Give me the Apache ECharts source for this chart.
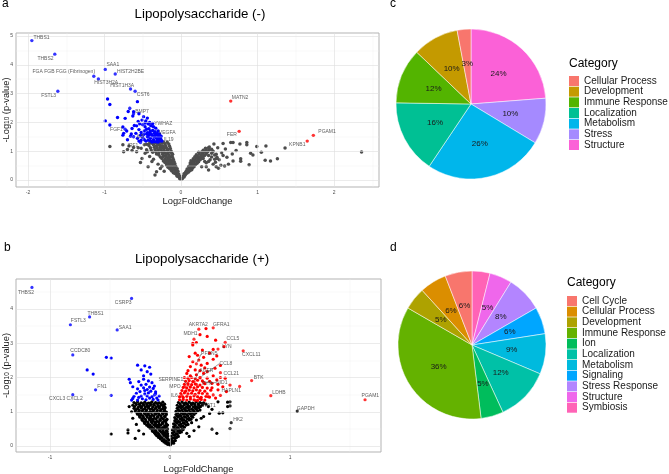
<!DOCTYPE html>
<html><head><meta charset="utf-8">
<script src="https://cdn.jsdelivr.net/npm/echarts@6/dist/echarts.min.js"></script>
<style>html,body{margin:0;padding:0;background:#fff}#c{width:669px;height:474px}</style>
</head><body><div id="c"></div>
<script>
// ================= DATA =================
// Panel a: Lipopolysaccharide (-)  [log2FC, -log10 p]
const aNs = [
[-0.01,0.03],[-0.02,0.07],[-0.03,0.11],[-0.05,0.13],[-0.04,0.16],[-0.02,0.14],
[-0.06,0.19],[-0.03,0.21],[-0.08,0.23],[-0.05,0.26],[-0.10,0.25],[-0.07,0.29],[-0.12,0.31],[-0.04,0.30],
[-0.06,0.34],[-0.09,0.36],[-0.13,0.35],[-0.15,0.40],[-0.05,0.39],[-0.08,0.43],[-0.11,0.41],[-0.14,0.45],[-0.17,0.44],
[-0.07,0.48],[-0.10,0.51],[-0.13,0.49],[-0.16,0.53],[-0.19,0.52],[-0.08,0.56],[-0.12,0.57],[-0.15,0.59],[-0.18,0.58],[-0.21,0.61],
[-0.09,0.63],[-0.12,0.66],[-0.16,0.64],[-0.19,0.67],[-0.23,0.66],[-0.10,0.71],[-0.14,0.70],[-0.17,0.73],[-0.21,0.72],[-0.25,0.75],
[-0.11,0.78],[-0.15,0.80],[-0.19,0.79],[-0.23,0.82],[-0.27,0.80],[-0.12,0.85],[-0.16,0.87],[-0.20,0.86],[-0.24,0.89],[-0.29,0.87],[-0.32,0.90],
[-0.12,0.93],[-0.17,0.95],[-0.21,0.94],[-0.25,0.97],[-0.29,0.95],[-0.33,0.98],[-0.37,0.96],[-0.13,1.01],[-0.18,1.03],[-0.22,1.02],[-0.26,1.05],[-0.30,1.03],[-0.34,1.06],[-0.39,1.04],
[-0.14,1.09],[-0.19,1.11],[-0.23,1.10],[-0.27,1.13],[-0.31,1.11],[-0.35,1.14],[-0.40,1.12],[-0.15,1.17],[-0.20,1.19],[-0.24,1.18],[-0.28,1.21],[-0.32,1.19],[-0.36,1.22],[-0.42,1.20],
[-0.16,1.25],[-0.21,1.26],[-0.25,1.28],[-0.29,1.25],[-0.33,1.29],[-0.37,1.26],[-0.41,1.28],[-0.45,1.24],[-0.18,1.31],[-0.23,1.32],[-0.27,1.33],[-0.35,1.32],[-0.39,1.31],
[-0.10,0.60],[-0.14,0.62],[-0.11,0.89],[-0.14,0.97],[-0.17,1.06],[-0.21,1.14],[-0.26,1.16],[-0.30,1.22],[-0.19,0.91],[-0.23,0.99],[-0.27,1.08],[-0.16,0.76],[-0.13,0.54],[-0.09,0.45],
[-0.93,1.16],[-0.76,1.22],[-0.75,0.98],[-0.70,1.06],[-0.64,1.02],[-0.62,1.13],[-0.56,1.12],[-0.52,1.10],[-0.51,0.75],[-0.47,0.93],[-0.53,0.61],[-0.43,0.46],[-0.38,0.64],[-0.34,0.17],[-0.32,0.29],[-0.48,1.22],[-0.45,1.05],[-0.41,0.82],[-0.36,0.72],[-0.30,0.55],[-0.27,0.40],[-0.25,0.48],[-0.22,0.30],[-0.44,0.98],[-0.58,0.98],[-0.68,1.18],
[0.01,0.03],[0.02,0.07],[0.04,0.10],[0.03,0.14],[0.05,0.16],[0.06,0.20],[0.04,0.22],[0.08,0.24],[0.06,0.27],[0.10,0.28],[0.07,0.31],[0.09,0.34],[0.12,0.33],[0.14,0.36],[0.08,0.38],[0.11,0.40],[0.15,0.42],[0.13,0.45],[0.17,0.46],[0.10,0.47],[0.12,0.51],[0.16,0.52],[0.19,0.54],[0.14,0.56],[0.21,0.58],[0.12,0.59],[0.17,0.61],[0.15,0.64],[0.20,0.65],[0.23,0.63],[0.13,0.67],[0.18,0.69],[0.22,0.71],[0.25,0.70],[0.16,0.74],[0.20,0.76],[0.24,0.77],[0.27,0.75],[0.18,0.81],[0.22,0.82],[0.26,0.84],[0.29,0.82],[0.31,0.86],[0.20,0.88],[0.24,0.90],[0.28,0.91],[0.33,0.92],[0.23,0.96],[0.27,0.97],[0.31,0.99],[0.35,0.98],[0.29,1.03],[0.33,1.05],[0.37,1.04],[0.32,1.10],[0.36,1.12],
[0.43,1.25],[0.55,1.27],[0.65,1.30],[0.68,1.30],[0.77,1.25],[0.86,1.30],[0.86,1.22],[1.11,1.18],[1.36,1.11],[1.05,0.96],[0.91,0.93],[0.94,0.87],[1.10,0.69],[1.17,0.66],[1.26,0.74],[0.89,0.53],[0.78,0.74],[0.78,0.65],[0.67,0.90],[0.68,0.66],[0.60,0.79],[0.57,0.49],[0.52,0.51],[0.47,0.79],[0.46,0.89],[0.40,1.07],[0.37,1.15],[0.42,1.00],[0.49,0.41],[0.40,0.93],[0.99,1.16],[2.36,0.97],[0.45,0.62],[0.50,0.70],[0.55,0.85],[0.62,0.55],[0.72,1.02],[0.38,0.70],[0.42,0.55],[0.36,0.85],[0.33,0.60],[0.44,0.72],[0.53,0.95],[0.58,1.08],[0.48,1.12],[0.30,0.98],[0.31,0.87],[0.29,0.75],[0.31,0.64],[0.27,0.46],[0.33,0.46],[0.36,0.64],[0.36,0.35],[0.44,0.87],[0.47,0.75],[0.46,0.46],[0.40,0.80]
];
const aDown = [
[-0.96,2.81],[-0.93,2.62],[-0.99,2.05],[-0.93,1.91],[-0.83,2.17],[-0.73,2.14],[-0.67,2.49],[-0.69,2.38],[-0.62,2.37],[-0.57,2.72],[-0.63,2.22],
[-0.76,1.84],[-0.75,1.62],[-0.76,1.55],[-0.70,1.40],[-0.71,1.70],[-0.64,1.79],[-0.61,1.89],[-0.56,2.03],[-0.51,2.08],
[-0.59,1.62],[-0.55,1.75],[-0.53,1.55],[-0.50,1.92],[-0.48,1.70],[-0.47,1.85],[-0.46,2.05],[-0.45,1.60],[-0.44,1.50],[-0.43,1.95],[-0.42,1.78],[-0.41,1.65],[-0.40,1.45],[-0.39,1.88],[-0.38,1.55],[-0.37,1.72],[-0.36,1.40],[-0.35,1.62],[-0.34,1.50],[-0.33,1.80],[-0.32,1.45],[-0.31,1.38],[-0.30,1.55],[-0.29,1.42],[-0.28,1.36],[-0.27,1.48],[-0.26,1.40],[-0.25,1.35],
[-0.48,1.40],[-0.50,1.48],[-0.52,1.38],[-0.46,1.35],[-0.43,1.38],[-0.40,1.36],[-0.38,1.32],[-0.35,1.33],[-0.32,1.33],[-0.30,1.32],[-0.55,1.35],[-0.57,1.45],[-0.62,1.50],[-0.65,1.60],[-0.66,1.52],[-0.58,1.88],[-0.54,1.95],[-0.45,1.76],[-0.41,2.00],[-0.37,1.96],[-0.40,1.70],[-0.36,1.85],[-0.34,1.68],[-0.30,1.70],[-0.28,1.60],[-0.26,1.52],
[-0.52,1.65],[-0.49,1.58],[-0.44,1.64],[-0.42,1.56],[-0.39,1.60],[-0.36,1.52],[-0.33,1.57],[-0.31,1.62],[-0.29,1.50],[-0.27,1.42],[-0.49,2.20],[-0.44,2.15],[-0.55,2.30],[-0.47,1.98]
];
const aLabNames = ['THBS1','THBS2','SAA1','HIST2H2BE','FGA FGB FGG (Fibrinogen)','HIST3H2A','HIST1H3A','CST6','FSTL3','BMP7','YWHAZ','VEGFA','IL19','IL5','FGF1','IRF1','MATN2','FER','PGAM1','KPNB1'];
const aLabPts = [[-1.95,4.84],[-1.65,4.37],[-0.99,3.84],[-0.86,3.68],[-1.14,3.60],[-1.08,3.51],[-0.66,3.16],[-0.60,3.08],[-1.61,3.08],[-0.62,2.30],[-0.40,1.90],[-0.33,1.60],[-0.27,1.36],[-0.43,1.50],[-0.73,1.76],[-0.53,1.30],[0.65,2.74],[0.76,1.69],[1.73,1.55],[1.65,1.35]];
const aLabGroup = ['down','down','down','down','down','down','down','down','down','down','down','down','down','down','down','down','up','up','up','up'];

// Panel b: Lipopolysaccharide (+)
const bNs = [
[-0.30,1.27],[-0.27,1.29],[-0.24,1.26],[-0.21,1.28],[-0.18,1.25],[-0.15,1.29],[-0.12,1.27],[-0.09,1.26],[-0.06,1.28],
[-0.285,1.24],[-0.255,1.22],[-0.225,1.24],[-0.195,1.23],[-0.165,1.25],[-0.135,1.22],[-0.105,1.24],[-0.075,1.23],[-0.045,1.22],
[-0.31,1.19],[-0.28,1.21],[-0.25,1.18],[-0.22,1.20],[-0.19,1.17],[-0.16,1.21],[-0.13,1.19],[-0.10,1.18],[-0.07,1.20],[-0.05,1.16],
[-0.295,1.15],[-0.265,1.13],[-0.235,1.15],[-0.205,1.14],[-0.175,1.16],[-0.145,1.14],[-0.115,1.13],[-0.085,1.15],[-0.055,1.14],
[-0.30,1.10],[-0.27,1.08],[-0.24,1.11],[-0.21,1.09],[-0.18,1.12],[-0.15,1.08],[-0.12,1.10],[-0.09,1.11],[-0.06,1.09],[-0.04,1.12],
[-0.285,1.06],[-0.255,1.04],[-0.225,1.06],[-0.195,1.05],[-0.165,1.07],[-0.135,1.05],[-0.105,1.04],[-0.075,1.06],[-0.045,1.05],
[-0.29,1.02],[-0.26,1.00],[-0.23,1.03],[-0.20,1.01],[-0.17,0.99],[-0.14,1.02],[-0.11,1.00],[-0.08,1.03],[-0.05,1.01],[-0.03,0.99],
[-0.275,0.97],[-0.245,0.95],[-0.215,0.97],[-0.185,0.96],[-0.155,0.98],[-0.125,0.96],[-0.095,0.95],[-0.065,0.97],[-0.035,0.96],
[-0.27,0.93],[-0.24,0.91],[-0.21,0.94],[-0.18,0.92],[-0.15,0.90],[-0.12,0.93],[-0.09,0.91],[-0.06,0.94],[-0.03,0.92],
[-0.255,0.88],[-0.225,0.87],[-0.195,0.89],[-0.165,0.87],[-0.135,0.88],[-0.105,0.86],[-0.075,0.88],[-0.045,0.87],
[-0.25,0.84],[-0.22,0.82],[-0.19,0.85],[-0.16,0.83],[-0.13,0.81],[-0.10,0.84],[-0.07,0.82],[-0.04,0.85],
[-0.235,0.79],[-0.205,0.78],[-0.175,0.80],[-0.145,0.78],[-0.115,0.79],[-0.085,0.77],[-0.055,0.79],[-0.025,0.78],
[-0.23,0.75],[-0.20,0.73],[-0.17,0.76],[-0.14,0.74],[-0.11,0.72],[-0.08,0.75],[-0.05,0.73],[-0.03,0.76],
[-0.215,0.70],[-0.185,0.69],[-0.155,0.71],[-0.125,0.69],[-0.095,0.70],[-0.065,0.68],[-0.035,0.70],
[-0.21,0.66],[-0.18,0.64],[-0.15,0.67],[-0.12,0.65],[-0.09,0.63],[-0.06,0.66],[-0.03,0.64],
[-0.195,0.61],[-0.165,0.60],[-0.135,0.62],[-0.105,0.60],[-0.075,0.61],[-0.045,0.59],[-0.02,0.61],
[-0.18,0.57],[-0.15,0.55],[-0.12,0.58],[-0.09,0.56],[-0.06,0.54],[-0.03,0.57],
[-0.165,0.52],[-0.135,0.51],[-0.105,0.53],[-0.075,0.51],[-0.045,0.52],[-0.02,0.50],
[-0.15,0.48],[-0.12,0.46],[-0.09,0.49],[-0.06,0.47],[-0.03,0.45],
[-0.145,0.43],[-0.115,0.42],[-0.085,0.44],[-0.055,0.42],[-0.025,0.43],
[-0.13,0.39],[-0.10,0.37],[-0.07,0.40],[-0.04,0.38],[-0.02,0.36],
[-0.12,0.34],[-0.09,0.33],[-0.06,0.35],[-0.035,0.33],
[-0.11,0.30],[-0.08,0.28],[-0.05,0.31],[-0.02,0.29],
[-0.095,0.25],[-0.065,0.24],[-0.035,0.26],
[-0.08,0.21],[-0.05,0.19],[-0.02,0.22],[-0.065,0.16],[-0.035,0.15],[-0.01,0.17],
[-0.05,0.12],[-0.02,0.10],[-0.035,0.08],[-0.01,0.07],[-0.02,0.05],[0.00,0.02],
[0.07,1.27],[0.10,1.29],[0.13,1.26],[0.16,1.28],[0.19,1.25],[0.22,1.29],[0.25,1.27],[0.28,1.26],
[0.085,1.23],[0.115,1.24],[0.145,1.22],[0.175,1.24],[0.205,1.23],[0.235,1.22],[0.265,1.24],
[0.06,1.19],[0.09,1.17],[0.12,1.20],[0.15,1.18],[0.18,1.21],[0.21,1.17],[0.24,1.19],[0.27,1.20],
[0.075,1.14],[0.105,1.15],[0.135,1.13],[0.165,1.15],[0.195,1.14],[0.225,1.13],[0.255,1.15],
[0.06,1.10],[0.09,1.12],[0.12,1.09],[0.15,1.11],[0.18,1.08],[0.21,1.10],[0.24,1.12],
[0.07,1.05],[0.10,1.06],[0.13,1.04],[0.16,1.06],[0.19,1.05],[0.22,1.07],
[0.05,1.01],[0.08,1.03],[0.11,1.00],[0.14,1.02],[0.17,0.99],[0.20,1.01],[0.23,1.03],
[0.065,0.96],[0.095,0.97],[0.125,0.95],[0.155,0.97],[0.185,0.96],[0.215,0.97],
[0.05,0.92],[0.08,0.90],[0.11,0.93],[0.14,0.91],[0.17,0.94],[0.20,0.92],
[0.06,0.87],[0.09,0.88],[0.12,0.86],[0.15,0.88],[0.18,0.87],
[0.04,0.83],[0.07,0.85],[0.10,0.82],[0.13,0.84],[0.16,0.81],[0.19,0.84],
[0.055,0.78],[0.085,0.79],[0.115,0.77],[0.145,0.79],[0.175,0.78],
[0.04,0.74],[0.07,0.72],[0.10,0.75],[0.13,0.73],[0.16,0.76],
[0.05,0.69],[0.08,0.70],[0.11,0.68],[0.14,0.70],
[0.03,0.65],[0.06,0.67],[0.09,0.64],[0.12,0.66],[0.15,0.63],
[0.045,0.60],[0.075,0.61],[0.105,0.59],[0.135,0.61],
[0.03,0.56],[0.06,0.54],[0.09,0.57],[0.12,0.55],
[0.04,0.51],[0.07,0.52],[0.10,0.50],
[0.02,0.47],[0.05,0.49],[0.08,0.46],[0.11,0.48],
[0.035,0.42],[0.065,0.43],[0.095,0.41],
[0.02,0.38],[0.05,0.36],[0.08,0.39],[0.03,0.33],[0.06,0.34],
[0.01,0.29],[0.04,0.31],[0.07,0.28],[0.025,0.24],[0.055,0.25],
[0.01,0.20],[0.04,0.22],[0.02,0.15],[0.045,0.16],[0.01,0.11],[0.03,0.13],[0.01,0.07],[0.03,0.08],
[-0.49,0.35],[-0.35,0.38],[-0.28,0.63],[-0.32,1.00],[-0.35,0.47],[-0.29,0.22],[-0.31,0.81],[-0.34,1.15],[-0.26,0.45],[-0.22,0.35],
[0.26,0.81],[0.24,0.56],[0.39,0.37],[0.40,1.29],[0.50,1.29],[0.50,1.17],[0.35,1.07],[0.44,0.97],[0.35,0.49],[0.41,0.96],[0.48,1.28],[0.48,1.15],[0.50,0.51],[0.25,1.05],[0.22,0.76],[0.18,0.68],[0.14,0.37],[0.28,0.86],[0.32,1.15],[0.30,1.22],[0.33,0.95],[0.20,0.45],[0.16,0.28]
];
const bDown = [
[-0.53,2.59],[-0.49,2.57],[-0.69,2.22],[-0.64,2.10],[-0.49,1.48],
[-0.27,2.36],[-0.21,2.34],[-0.17,2.30],[-0.24,2.22],[-0.19,2.17],[-0.16,2.10],[-0.34,1.95],[-0.33,1.85],[-0.31,1.73],[-0.24,1.78],[-0.22,1.95],[-0.18,1.90],[-0.15,1.85],[-0.14,1.68],[-0.19,1.65],[-0.25,1.59],[-0.28,1.54],[-0.21,1.52],[-0.18,1.55],[-0.16,1.60],[-0.15,1.44],[-0.13,1.49],[-0.12,1.58],[-0.17,1.40],[-0.14,1.36],[-0.31,1.39],[-0.30,1.45],[-0.26,1.42],[-0.23,1.38],[-0.20,1.35],[-0.11,1.40],[-0.10,1.34],[-0.13,1.75],[-0.20,1.80],[-0.27,1.67],[-0.22,1.70],[-0.17,1.72],[-0.12,1.52],[-0.09,1.46],[-0.24,1.46],[-0.19,1.46],[-0.27,1.34],[-0.32,1.34],[-0.22,2.05],[-0.26,1.88],[-0.21,1.62]
];
const bUp = [
[0.08,1.35],[0.11,1.36],[0.14,1.34],[0.17,1.37],[0.20,1.35],[0.23,1.33],[0.26,1.36],[0.29,1.34],
[0.08,1.44],[0.11,1.42],[0.14,1.45],[0.17,1.43],[0.20,1.46],[0.23,1.44],[0.26,1.42],[0.30,1.45],[0.33,1.43],
[0.09,1.53],[0.12,1.55],[0.15,1.52],[0.18,1.54],[0.21,1.51],[0.24,1.55],[0.27,1.53],[0.31,1.52],
[0.10,1.62],[0.13,1.60],[0.16,1.63],[0.19,1.61],[0.22,1.64],[0.25,1.62],[0.29,1.60],[0.34,1.63],
[0.11,1.71],[0.14,1.69],[0.17,1.72],[0.20,1.70],[0.23,1.73],[0.27,1.71],[0.31,1.69],
[0.12,1.80],[0.15,1.82],[0.18,1.79],[0.21,1.81],[0.25,1.78],[0.29,1.82],
[0.13,1.89],[0.16,1.91],[0.19,1.88],[0.23,1.92],[0.27,1.90],[0.33,1.89],
[0.15,1.98],[0.18,2.00],[0.21,1.97],[0.25,1.99],[0.31,1.98],
[0.17,2.05],[0.22,2.08],[0.28,2.12],[0.14,2.12],[0.25,2.20],[0.21,2.22],[0.31,2.17],[0.375,2.27],[0.17,2.32],[0.26,2.36],[0.31,2.41],[0.19,2.46],[0.24,2.51],[0.36,2.53],[0.28,2.59],[0.16,2.61],[0.39,2.63],[0.21,2.71],[0.33,2.71],[0.36,2.82],[0.19,2.95],[0.19,3.00],[0.22,3.02],[0.38,3.09],[0.30,3.43],[0.45,2.90],
[0.42,2.00],[0.46,1.98],[0.39,1.93],[0.35,1.83],[0.50,1.78],[0.44,1.73],[0.47,1.59],[0.40,1.64],[0.36,1.49],[0.32,1.44],[0.25,1.39],[0.38,1.40],[0.42,1.48],[0.35,1.70],[0.40,1.80],[0.36,2.05],[0.29,2.28],[0.23,2.65],[0.27,2.80],[0.31,3.20],[0.25,3.25],[0.15,2.20],[0.12,2.00],[0.42,2.35]
];
const bLabNames = ['THBS2','CSRP3','THBS1','FSTL3','SAA1','CCDC80','FN1','CXCL3 CXCL2','AKR7A2','GFRA1','MDH1','CCL5','LYN','CXCL11','CCL21','FYN','MPO','IL6','BTK','HAPLN1','LDHB','STAT1','PGAM1','GAPDH','HK2'];
const bLabPts = [[-1.15,4.63],[-0.32,4.31],[-0.67,3.77],[-0.83,3.54],[-0.44,3.39],[-0.81,2.66],[-0.62,1.64],[-0.81,1.50],[0.24,3.41],[0.36,3.45],[0.20,3.12],[0.46,3.03],[0.40,2.83],[0.61,2.78],[0.42,2.14],[0.22,1.80],[0.125,1.73],[0.10,1.47],[0.68,1.91],[0.58,1.74],[0.84,1.47],[0.21,1.33],[1.625,1.35],[1.06,1.02],[0.51,0.68]];
const bLabGroup = ['down','down','down','down','down','down','down','down','up','up','up','up','up','up','up','up','up','up','up','up','up','up','up','ns','ns'];
// labeled genes drawn with a connector (ggrepel segment)
const bSegNames = ['PFDN5','CCL8','AGER','NID1','SERPINE1'];
const bSegPts = [[0.22,2.40],[0.25,2.00],[0.20,1.88],[0.28,1.86],[0.15,1.78]];
const bSegGroup = ['up','up','up','up','up'];

// axis ticks
const aXTicks = [-2,-1,0,1,2], aXMinor = [-1.5,-0.5,0.5,1.5,2.5];
const aYTicks = [0,1,2,3,4,5], aYMinor = [0.5,1.5,2.5,3.5,4.5];
const bXTicks = [-1,0,1], bXMinor = [-0.5,0.5,1.5];
const bYTicks = [0,1,2,3,4], bYMinor = [0.5,1.5,2.5,3.5,4.5];

// Panel c pie
const cCats = ['Cellular Process','Development','Immune Response','Localization','Metabolism','Stress','Structure'];
const cVals = [3,10,12,16,26,10,24];
// Panel d pie
const dCats = ['Cell Cycle','Cellular Process','Development','Immune Response','Ion','Localization','Metabolism','Signaling','Stress Response','Structure','Symbiosis'];
const dVals = [6,6,5,36,5,12,9,6,8,5,4];

// ================= STYLE =================
const cCols = ['#F8766D','#C49A00','#53B400','#00C094','#00B6EB','#A58AFF','#FB61D7'];
const dCols = ['#F8766D','#DB8E00','#AEA200','#64B200','#00BD5C','#00C1A7','#00BADE','#00A6FF','#B385FF','#EF67EB','#FF63B6'];
const FONT = 'Liberation Sans, Arial, Helvetica, sans-serif';
const aOff = {'THBS1':[9.6,-3],'THBS2':[-9.3,4.7],'SAA1':[7.5,-4.6],'HIST2H2BE':[15.3,-2],'FGA FGB FGG (Fibrinogen)':[-30,-4.3],'HIST3H2A':[7.8,3.7],'HIST1H3A':[-8.3,-3],'CST6':[8.1,3.7],'FSTL3':[-9.2,4.7],'BMP7':[8.4,-1.7],'YWHAZ':[12.8,-1.7],'VEGFA':[11.4,-1],'IL19':[8.3,-1],'IL5':[-7.7,0],'FGF1':[-8.7,0.7],'IRF1':[-7.5,2.7],'MATN2':[9.3,-3.7],'FER':[-7.3,3.4],'PGAM1':[13.7,-3.6],'KPNB1':[-10,4]};
const bOff = {'THBS2':[-6,4.7],'CSRP3':[-8.4,4.4],'THBS1':[6,-3.3],'FSTL3':[8,-3.7],'SAA1':[8,-2.7],'CCDC80':[7.6,-4.3],'FN1':[6.5,-3.3],'CXCL3 CXCL2':[-6.9,4.3],'AKR7A2':[-0.5,-5],'GFRA1':[8.1,-3.4],'MDH1':[-3.5,-5.8],'CCL5':[7.7,-3.3],'LYN':[9,-2.4],'CXCL11':[8.1,4.3],'PFDN5':[12.9,-9.8],'CCL8':[26,-14],'AGER':[12.4,-11],'CCL21':[10.9,1.3],'NID1':[18.2,0.4],'FYN':[10.8,-1],'SERPINE1':[-17.2,-5],'MPO':[-10,0],'IL6':[-7.7,0],'BTK':[7,-3],'HAPLN1':[-8.4,4.7],'LDHB':[8.2,-3],'STAT1':[13.1,5.6],'PGAM1':[5.3,-3.7],'GAPDH':[8.5,-2.3],'HK2':[6.8,-2.7]};

function gridLines(idx, xMaj, xMin, yMaj, yMin){
  const maj = {color:'#dedede', width:0.6, type:'solid'};
  const mnr = {color:'#f0f0f0', width:0.4, type:'solid'};
  const d = [];
  xMin.forEach(v=>d.push({xAxis:v, lineStyle:mnr}));
  yMin.forEach(v=>d.push({yAxis:v, lineStyle:mnr}));
  xMaj.forEach(v=>d.push({xAxis:v, lineStyle:maj}));
  yMaj.forEach(v=>d.push({yAxis:v, lineStyle:maj}));
  return {type:'scatter', xAxisIndex:idx, yAxisIndex:idx, data:[], z:1, silent:true, animation:false,
    markLine:{silent:true, symbol:['none','none'], label:{show:false}, animation:false, data:d}};
}
function pts(idx, data, color, size, z){
  return {type:'scatter', xAxisIndex:idx, yAxisIndex:idx, data:data, symbolSize:size, itemStyle:{color:color, opacity:1}, z:z, silent:true, animation:false};
}
function labSeries(idx, names, points, groups, offs, withLine, colors, size){
  return {type:'scatter', xAxisIndex:idx, yAxisIndex:idx, symbolSize:size, z:5, silent:true, animation:false,
    data: names.map((n,i)=>({name:n, value:points[i], itemStyle:{color:colors[groups[i]]}})),
    label:{show:true, position:'inside', formatter:'{b}', fontSize:5, color:'#333', fontFamily:FONT},
    labelLine:{show:withLine, lineStyle:{color:'#555', width:0.6}},
    labelLayout: function(p){ const o = offs[names[p.dataIndex]] || [0,0]; return {dx:o[0], dy:o[1]}; }
  };
}
function isTick(v, arr){ return arr.some(t=>Math.abs(t-v)<1e-6); }
const nameRich = {n:{fontSize:9.3, color:'#1a1a1a', lineHeight:11, verticalAlign:'bottom', fontFamily:FONT}, s:{fontSize:6.5, color:'#1a1a1a', lineHeight:7, verticalAlign:'bottom', fontFamily:FONT}};
function xAx(idx, min, max, ticks, gap){
  return {gridIndex:idx, type:'value', min:min, max:max, splitNumber:5, splitLine:{show:false}, axisLine:{show:false}, axisTick:{show:false},
    axisLabel:{fontSize:5, color:'#4d4d4d', margin:3, fontFamily:FONT, formatter: v=> isTick(v,ticks)? String(Math.round(v)) : ''},
    name:'{n|Log}{s|2}{n|FoldChange}', nameLocation:'middle', nameGap:gap, nameMoveOverlap:false, nameTextStyle:{rich:nameRich}};
}
function yAx(idx, min, max, ticks){
  return {gridIndex:idx, type:'value', min:min, max:max, splitNumber:5, splitLine:{show:false}, axisLine:{show:false}, axisTick:{show:false},
    axisLabel:{fontSize:5, color:'#4d4d4d', margin:3, fontFamily:FONT, formatter: v=> isTick(v,ticks)? String(Math.round(v)) : ''},
    name:'{n|-Log}{s|10}{n| (p-value)}', nameLocation:'middle', nameGap:5, nameRotate:90, nameMoveOverlap:false, nameTextStyle:{rich:nameRich}};
}
function pie(cats, vals, cols, center, r){
  return {type:'pie', center:center, radius:r, startAngle:90, clockwise:true, silent:true, animation:false, avoidLabelOverlap:false,
    data: cats.map((n,i)=>({name:n, value:vals[i], itemStyle:{color:cols[i]}})).reverse(),
    label:{show:true, position:'inside', formatter: p=> p.value+'%', fontSize:8, color:'#1a1a1a', fontFamily:FONT},
    labelLine:{show:false}, itemStyle:{borderColor:'#ffffff', borderWidth:0.5}, emphasis:{disabled:true}};
}
function legend(cats, cols, left, top){
  return {orient:'vertical', left:left, top:top, padding:0, icon:'rect', itemWidth:10, itemHeight:10, itemGap:0.67, selectedMode:false,
    data: cats.map((n,i)=>({name:n, itemStyle:{color:cols[i], borderWidth:0}})),
    textStyle:{fontSize:10, color:'#1a1a1a', lineHeight:10, fontFamily:FONT}};
}
const T = (text, left, top, size, align) => ({text:text, left:left, top:top, padding:0, textAlign:align||'left', textStyle:{fontSize:size, fontWeight:'normal', color:'#000', fontFamily:FONT}});

const colA = {ns:'#4d4d4d', down:'#0000ff', up:'#ff0000'};
const colB = {ns:'#000000', down:'#0000ff', up:'#ff0000'};

const option = {
  animation:false,
  textStyle:{fontFamily:FONT},
  title:[
    T('a',2,-2,12), T('Lipopolysaccharide (-)',200,8,13.3,'center'),
    T('b',4,242,12), T('Lipopolysaccharide (+)',202,253,13.3,'center'),
    T('c',390,-2,12), T('d',390,242,12),
    T('Category',569,58,12), T('Category',567,277,12)
  ],
  grid:[
    {left:16, top:33, width:363, height:154, show:true, borderColor:'#b3b3b3', borderWidth:1, backgroundColor:'#fff', containLabel:false, outerBoundsMode:'none'},
    {left:16, top:279, width:365, height:173, show:true, borderColor:'#b3b3b3', borderWidth:1, backgroundColor:'#fff', containLabel:false, outerBoundsMode:'none'}
  ],
  xAxis:[ xAx(0,-2.157,2.588,aXTicks,8), xAx(1,-1.283,1.758,bXTicks,10.5) ],
  yAxis:[ yAx(0,-0.243,5.104,aYTicks), yAx(1,-0.175,4.876,bYTicks) ],
  legend:[ legend(cCats,cCols,569,76), legend(dCats,dCols,567,296) ],
  series:[
    gridLines(0,aXTicks,aXMinor,aYTicks,aYMinor),
    gridLines(1,bXTicks,bXMinor,bYTicks,bYMinor),
    pts(0,aNs,colA.ns,3.5,2), pts(0,aDown,colA.down,3.4,3),
    labSeries(0,aLabNames,aLabPts,aLabGroup,aOff,false,colA,3.4),
    pts(1,bNs,colB.ns,3.2,2), pts(1,bDown,colB.down,3.2,3), pts(1,bUp,colB.up,3.2,3),
    labSeries(1,bLabNames,bLabPts,bLabGroup,bOff,false,colB,3.2),
    labSeries(1,bSegNames,bSegPts,bSegGroup,bOff,true,colB,3.2),
    pie(cCats,cVals,cCols,[471,104],75),
    pie(dCats,dVals,dCols,[472,345],74)
  ]
};
const chart = echarts.init(document.getElementById('c'));
chart.setOption(option);
</script></body></html>
